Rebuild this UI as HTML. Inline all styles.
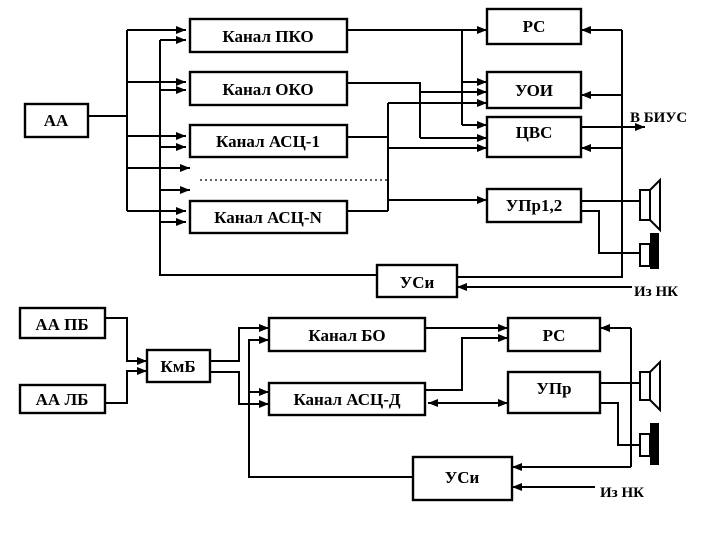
<!DOCTYPE html>
<html><head><meta charset="utf-8"><style>
html,body{margin:0;padding:0;background:#fff}
svg{display:block}
text{font-family:"Liberation Serif",serif;font-weight:bold;fill:#000}
</style></head><body>
<svg width="720" height="540" viewBox="0 0 720 540" xmlns="http://www.w3.org/2000/svg">
<defs>
<marker id="a" viewBox="0 0 10 10" refX="10" refY="5" markerWidth="5" markerHeight="5" orient="auto-start-reverse"><path d="M0,1 L10,5 L0,9 z" fill="#000"/></marker>
</defs>
<g fill="none" stroke="#000" stroke-width="2.4">
<rect x="25" y="104" width="63" height="33"/>
<rect x="190" y="19" width="157" height="33"/>
<rect x="190" y="72" width="157" height="33"/>
<rect x="190" y="125" width="157" height="32"/>
<rect x="190" y="201" width="157" height="32"/>
<rect x="487" y="9" width="94" height="35"/>
<rect x="487" y="72" width="94" height="36"/>
<rect x="487" y="117" width="94" height="40"/>
<rect x="487" y="189" width="94" height="33"/>
<rect x="377" y="265" width="80" height="32"/>
</g>
<g fill="none" stroke="#000" stroke-width="2">
<path d="M88,116 H127 M127,30 V211"/>
<path d="M127,30 H186" marker-end="url(#a)"/>
<path d="M127,82 H186" marker-end="url(#a)"/>
<path d="M127,136 H186" marker-end="url(#a)"/>
<path d="M127,168 H190" marker-end="url(#a)"/>
<path d="M127,211 H186" marker-end="url(#a)"/>
<path d="M377,275 H160 V40"/>
<path d="M160,40 H186" marker-end="url(#a)"/>
<path d="M160,90 H186" marker-end="url(#a)"/>
<path d="M160,147 H186" marker-end="url(#a)"/>
<path d="M160,190 H190" marker-end="url(#a)"/>
<path d="M160,222 H186" marker-end="url(#a)"/>
<path d="M347,30 H487" marker-end="url(#a)"/>
<path d="M462,30 V125"/>
<path d="M462,82 H487" marker-end="url(#a)"/>
<path d="M462,125 H487" marker-end="url(#a)"/>
<path d="M347,83 H420 V138"/>
<path d="M420,92 H487" marker-end="url(#a)"/>
<path d="M420,138 H487" marker-end="url(#a)"/>
<path d="M347,137 H388 M347,211 H388 M388,103 V211"/>
<path d="M388,103 H487" marker-end="url(#a)"/>
<path d="M388,148 H487" marker-end="url(#a)"/>
<path d="M388,200 H487" marker-end="url(#a)"/>
<path d="M200,180 H388" stroke-dasharray="2,3" stroke-width="1.2"/>
<path d="M622,30 V277 H457"/>
<path d="M622,30 H581" marker-end="url(#a)"/>
<path d="M622,95 H581" marker-end="url(#a)"/>
<path d="M622,148 H581" marker-end="url(#a)"/>
<path d="M632,287 H457" marker-end="url(#a)"/>
<path d="M581,127 H645" marker-end="url(#a)"/>
<path d="M581,201 H640"/>
<path d="M581,211 H599 V253 H640"/>
<rect x="640" y="190" width="10" height="30"/>
<path d="M650,190 L660,180 V230 L650,220"/>
<rect x="640" y="244" width="10" height="22"/>
</g>
<rect x="650" y="233" width="9" height="36" fill="#000"/>
<g font-size="17">
<text x="268" y="42" text-anchor="middle">Канал ПКО</text>
<text x="268" y="95" text-anchor="middle">Канал ОКО</text>
<text x="268" y="147" text-anchor="middle">Канал АСЦ-1</text>
<text x="268" y="223" text-anchor="middle">Канал АСЦ-N</text>
<text x="534" y="32" text-anchor="middle">РС</text>
<text x="534" y="96" text-anchor="middle">УОИ</text>
<text x="534" y="138" text-anchor="middle">ЦВС</text>
<text x="534" y="211" text-anchor="middle">УПр1,2</text>
<text x="417" y="288" text-anchor="middle">УСи</text>
<text x="56" y="126" text-anchor="middle">АА</text>
<text x="630" y="122" font-size="15">В БИУС</text>
<text x="634" y="296" font-size="15">Из НК</text>
</g>
<g fill="none" stroke="#000" stroke-width="2.4">
<rect x="20" y="308" width="85" height="30"/>
<rect x="20" y="385" width="85" height="28"/>
<rect x="147" y="350" width="63" height="32"/>
<rect x="269" y="318" width="156" height="33"/>
<rect x="269" y="383" width="156" height="32"/>
<rect x="508" y="318" width="92" height="33"/>
<rect x="508" y="372" width="92" height="41"/>
<rect x="413" y="457" width="99" height="43"/>
</g>
<g fill="none" stroke="#000" stroke-width="2">
<path d="M105,318 H127 V361 H147" marker-end="url(#a)"/>
<path d="M105,403 H127 V371 H147" marker-end="url(#a)"/>
<path d="M210,361 H239 V328 H269" marker-end="url(#a)"/>
<path d="M210,372 H239 V404 H269" marker-end="url(#a)"/>
<path d="M413,477 H249 V340 H269" marker-end="url(#a)"/>
<path d="M249,392 H269" marker-end="url(#a)"/>
<path d="M425,328 H508" marker-end="url(#a)"/>
<path d="M425,390 H462 V338 H508" marker-end="url(#a)"/>
<path d="M428,403 H508" marker-start="url(#a)" marker-end="url(#a)"/>
<path d="M631,328 V467"/>
<path d="M631,328 H600" marker-end="url(#a)"/>
<path d="M631,467 H512" marker-end="url(#a)"/>
<path d="M595,487 H512" marker-end="url(#a)"/>
<path d="M600,383 H640"/>
<path d="M600,403 H618 V445 H640"/>
<rect x="640" y="372" width="10" height="28"/>
<path d="M650,372 L660,362 V410 L650,400"/>
<rect x="640" y="434" width="10" height="22"/>
</g>
<rect x="650" y="423" width="9" height="42" fill="#000"/>
<g font-size="17">
<text x="62" y="330" text-anchor="middle">АА ПБ</text>
<text x="62" y="405" text-anchor="middle">АА ЛБ</text>
<text x="178" y="372" text-anchor="middle">КмБ</text>
<text x="347" y="341" text-anchor="middle">Канал БО</text>
<text x="347" y="405" text-anchor="middle">Канал АСЦ-Д</text>
<text x="554" y="341" text-anchor="middle">РС</text>
<text x="554" y="394" text-anchor="middle">УПр</text>
<text x="462" y="483" text-anchor="middle">УСи</text>
<text x="600" y="497" font-size="15">Из НК</text>
</g>
</svg>
</body></html>
